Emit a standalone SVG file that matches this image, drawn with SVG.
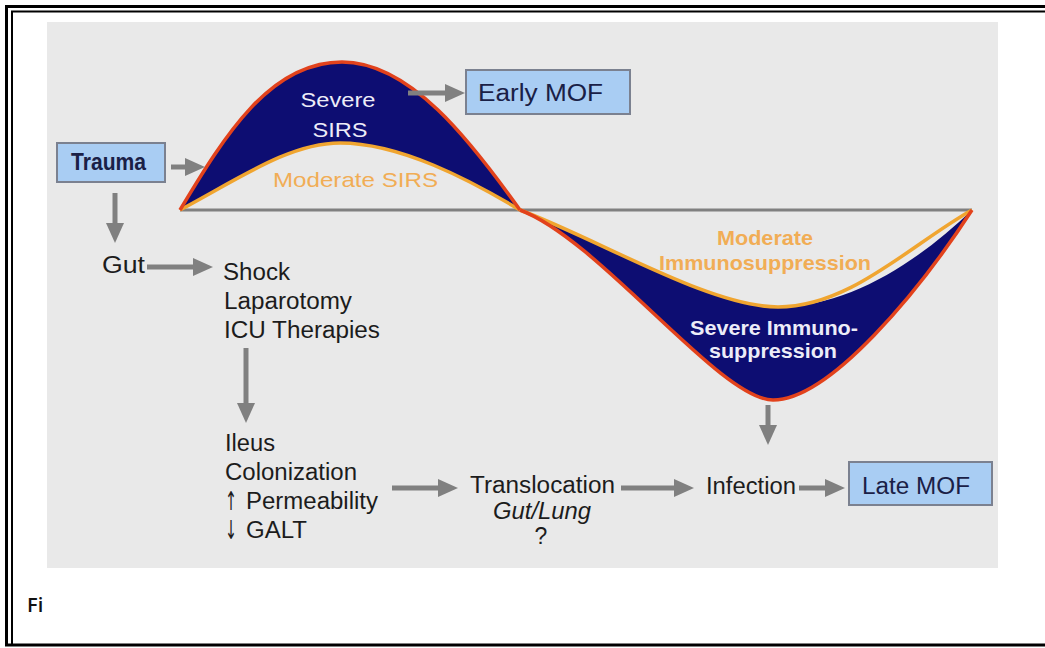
<svg xmlns="http://www.w3.org/2000/svg" width="1045" height="648" viewBox="0 0 1045 648">
  <style>
    .t { font-family: "Liberation Sans", Arial, sans-serif; font-size: 23px; fill: #1c1c1c; }
    .arr { font-family: "DejaVu Sans", "Liberation Sans", sans-serif; font-size: 26px; fill: #1c1c1c; }
    .box { fill: #a9cdf3; stroke: #7b8190; stroke-width: 2; }
    .boxt { font-family: "Liberation Sans", Arial, sans-serif; font-size: 23px; fill: #1a2046; }
    .white { font-family: "Liberation Sans", Arial, sans-serif; font-size: 21px; fill: #ececf8; }
    .orng { font-family: "Liberation Sans", Arial, sans-serif; font-size: 21px; fill: #f1ad55; }
    .conn { stroke: #808080; stroke-width: 5; fill: none; marker-end: url(#ah); }
    .lobe { fill: #0d0d72; }
    .red { fill: none; stroke: #e2421c; stroke-width: 3.5; stroke-linejoin: round; }
    .ora { fill: none; stroke: #f0a530; stroke-width: 3.5; stroke-linejoin: round; }
  </style>
  <defs>
    <marker id="ah" markerUnits="userSpaceOnUse" markerWidth="20" markerHeight="20" viewBox="0 0 20 20" refX="8" refY="10" orient="auto">
      <path d="M0,1 L20,10 L0,19 Z" fill="#808080"/>
    </marker>
  </defs>

  <!-- page and frame -->
  <rect width="1045" height="648" fill="#ffffff"/>
  <path d="M1045,6.5 H6.5 V646" fill="none" stroke="#000" stroke-width="3"/>
  <path d="M1045,11.5 H12 V644" fill="none" stroke="#000" stroke-width="2"/>
  <line x1="5" y1="645" x2="1045" y2="645" stroke="#000" stroke-width="3"/>

  <!-- figure panel -->
  <rect x="47" y="22" width="951" height="546" fill="#e9e9e9"/>

  <!-- time axis -->
  <line x1="180" y1="210" x2="972" y2="210" stroke="#808080" stroke-width="3"/>

  <!-- SIRS lobe -->
  <g id="sirs">
    <path class="lobe" d="M180,210 C225,135 270,62 342,62 C410,62 470,140 520,210 C470,180 400,143 340,143 C290,143 240,178 180,210 Z"/>
    <path class="ora" d="M180,210 C240,178 290,143 340,143 C400,143 470,180 520,210"/>
    <path class="red" d="M180,210 C225,135 270,62 342,62 C410,62 470,140 520,210"/>
    <text class="white" x="338" y="107" text-anchor="middle" textLength="75" lengthAdjust="spacingAndGlyphs">Severe</text>
    <text class="white" x="340" y="137" text-anchor="middle" textLength="55" lengthAdjust="spacingAndGlyphs">SIRS</text>
    <text class="orng" x="273" y="187" textLength="165" lengthAdjust="spacingAndGlyphs">Moderate SIRS</text>
  </g>

  <!-- immunosuppression lobe -->
  <g id="immuno">
    <path class="lobe" d="M520,210 C600,240 720,400 773,400 C830,400 920,290 972,210 C920,260 850,307 778,307 C710,307 600,240 520,210 Z"/>
    <path class="ora" d="M520,210 C600,240 710,307 778,307 C850,307 910,245 972,210"/>
    <path class="red" d="M520,210 C600,240 720,400 773,400 C830,400 920,290 972,210"/>
    <text class="orng" x="765" y="245" text-anchor="middle" font-weight="bold" font-size="18" textLength="96" lengthAdjust="spacingAndGlyphs">Moderate</text>
    <text class="orng" x="765" y="270" text-anchor="middle" font-weight="bold" font-size="18" textLength="212" lengthAdjust="spacingAndGlyphs">Immunosuppression</text>
    <text class="white" x="774" y="335" text-anchor="middle" font-weight="bold" font-size="19" textLength="168" lengthAdjust="spacingAndGlyphs">Severe Immuno-</text>
    <text class="white" x="773" y="358" text-anchor="middle" font-weight="bold" font-size="19" textLength="128" lengthAdjust="spacingAndGlyphs">suppression</text>
  </g>

  <!-- nodes -->
  <g id="trauma">
    <rect class="box" x="57" y="143" width="108" height="39"/>
    <text class="boxt" x="71" y="170" font-weight="bold" font-size="18" textLength="75" lengthAdjust="spacingAndGlyphs">Trauma</text>
  </g>
  <g id="early-mof">
    <rect class="box" x="466" y="70" width="164" height="44"/>
    <text class="boxt" x="478" y="101" textLength="125" lengthAdjust="spacingAndGlyphs">Early MOF</text>
  </g>
  <g id="late-mof">
    <rect class="box" x="849" y="462" width="143" height="43"/>
    <text class="boxt" x="862" y="494" textLength="108" lengthAdjust="spacingAndGlyphs">Late MOF</text>
  </g>
  <g id="gut">
    <text class="t" x="102" y="273" textLength="43" lengthAdjust="spacingAndGlyphs">Gut</text>
  </g>
  <g id="insults">
    <text class="t" x="223" y="280" textLength="67" lengthAdjust="spacingAndGlyphs">Shock</text>
    <text class="t" x="224" y="309" textLength="128" lengthAdjust="spacingAndGlyphs">Laparotomy</text>
    <text class="t" x="224" y="338" textLength="156" lengthAdjust="spacingAndGlyphs">ICU Therapies</text>
  </g>
  <g id="gut-changes">
    <text class="t" x="225" y="451" textLength="50" lengthAdjust="spacingAndGlyphs">Ileus</text>
    <text class="t" x="225" y="480" textLength="132" lengthAdjust="spacingAndGlyphs">Colonization</text>
    <text class="arr" x="225" y="510" textLength="12" lengthAdjust="spacingAndGlyphs">&#x2191;&#xFE0E;</text>
    <text class="t" x="246" y="509" textLength="132" lengthAdjust="spacingAndGlyphs">Permeability</text>
    <text class="arr" x="225" y="539" textLength="12" lengthAdjust="spacingAndGlyphs">&#x2193;&#xFE0E;</text>
    <text class="t" x="246" y="538" textLength="61" lengthAdjust="spacingAndGlyphs">GALT</text>
  </g>
  <g id="translocation">
    <text class="t" x="470" y="493" textLength="145" lengthAdjust="spacingAndGlyphs">Translocation</text>
    <text class="t" x="542" y="519" text-anchor="middle" font-style="italic" font-size="18" textLength="98" lengthAdjust="spacingAndGlyphs">Gut/Lung</text>
    <text class="t" x="541" y="544" text-anchor="middle" font-size="19">?</text>
  </g>
  <g id="infection">
    <text class="t" x="706" y="494" textLength="90" lengthAdjust="spacingAndGlyphs">Infection</text>
  </g>

  <!-- connectors -->
  <g id="connectors">
    <line class="conn" x1="171" y1="167" x2="193" y2="167"/>
    <line class="conn" x1="408" y1="93" x2="453" y2="93"/>
    <line class="conn" x1="115" y1="193" x2="115" y2="231"/>
    <line class="conn" x1="147" y1="267" x2="201" y2="267"/>
    <line class="conn" x1="246" y1="348" x2="246" y2="411"/>
    <line class="conn" x1="392" y1="488" x2="446" y2="488"/>
    <line class="conn" x1="621" y1="488" x2="682" y2="488"/>
    <line class="conn" x1="799" y1="488" x2="833" y2="488"/>
    <line class="conn" x1="768" y1="405" x2="768" y2="433"/>
  </g>

  <!-- caption -->
  <text x="27" y="612" font-family="'Open Sans', 'Liberation Sans', sans-serif" font-weight="600" font-size="20" fill="#111">Fi</text>
</svg>
